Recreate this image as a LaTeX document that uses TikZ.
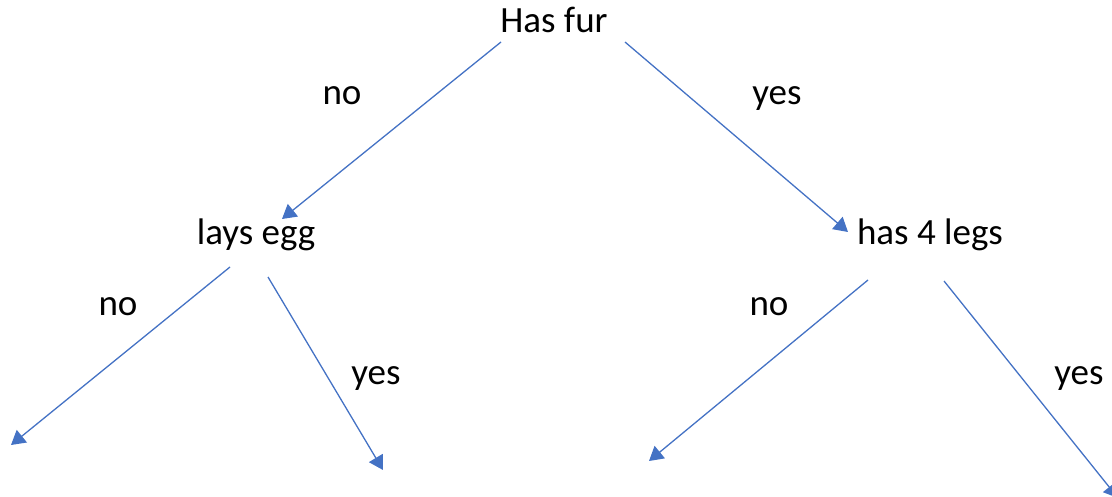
\documentclass[tikz,border=0pt]{standalone}
\usepackage{fontspec}
\setmainfont{Carlito}
\usetikzlibrary{arrows.meta}
\definecolor{lineblue}{HTML}{4472C4}
\begin{document}
\begin{tikzpicture}[x=1pt,y=-1pt,
  lbl/.style={font=\fontsize{37}{44}\selectfont, inner sep=0pt, text=black, anchor=base},
  conn/.style={draw=lineblue, line width=1.3pt, -{Triangle[length=14pt,width=16pt]}}]
\useasboundingbox (0,0) rectangle (1112,497);
% nodes (positioned by baseline)
\node[lbl] (root) at (554,33) {Has fur};
\node[lbl] (egg) at (256,245) {lays egg};
\node[lbl] (legs) at (930,245) {has 4 legs};
% edge labels
\node[lbl] (l1) at (342,105) {no};
\node[lbl] (l2) at (777,105) {yes};
\node[lbl] (l3) at (118,316) {no};
\node[lbl] (l4) at (376,384) {yes};
\node[lbl] (l5) at (769,316) {no};
\node[lbl] (l6) at (1079,384) {yes};
% connector endpoints
\coordinate (rA) at (501,42);
\coordinate (rB) at (625,42);
\coordinate (eA) at (230,267);
\coordinate (eB) at (268,277);
\coordinate (gA) at (868,280);
\coordinate (gB) at (944,281);
\coordinate (tEgg) at (282,219);
\coordinate (tLegs) at (848,232);
\coordinate (t1) at (11,445);
\coordinate (t2) at (383,470);
\coordinate (t3) at (649,461);
\coordinate (t4) at (1118,498);
% connectors
\draw[conn] (rA) -- (tEgg);
\draw[conn] (rB) -- (tLegs);
\draw[conn] (eA) -- (t1);
\draw[conn] (eB) -- (t2);
\draw[conn] (gA) -- (t3);
\draw[conn] (gB) -- (t4);
\end{tikzpicture}
\end{document}
